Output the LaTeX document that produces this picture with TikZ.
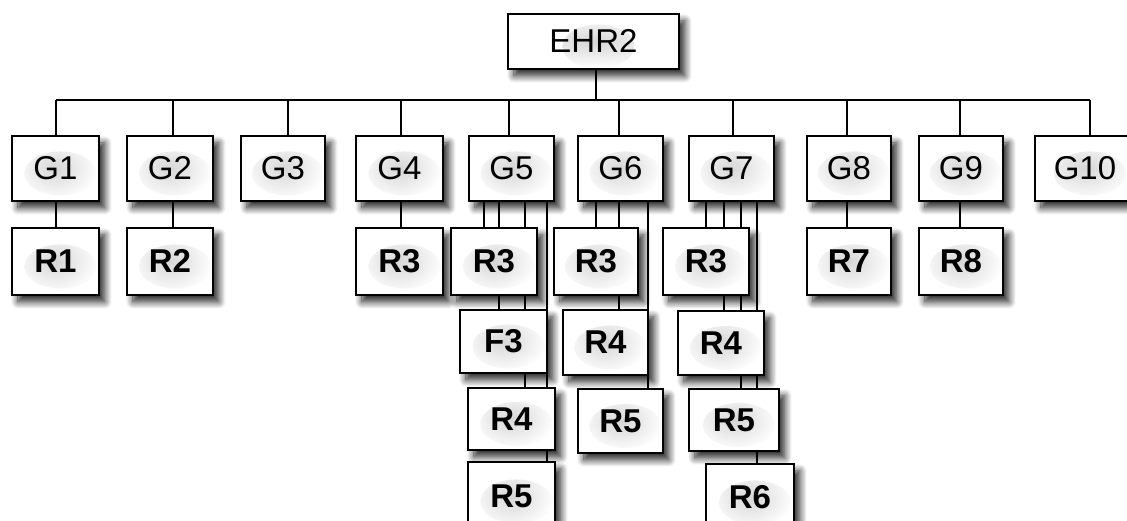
\documentclass[tikz,border=0pt]{standalone}
\usepackage{fontspec}
\setmainfont{Liberation Sans}
\usetikzlibrary{shadows.blur}
\pgfdeclarelayer{bg}
\pgfsetlayers{bg,main}
\tikzset{
  box/.style={draw=black, line width=1.9pt, fill=white, anchor=north west,
    inner sep=0pt, font=\fontsize{33}{33}\selectfont,
    blur shadow={shadow xshift=6pt, shadow yshift=-7pt, shadow blur radius=7pt,
      shadow blur steps=10, shadow opacity=85},
    path picture={\shade[inner color=black!16, outer color=white]
      ([xshift=5pt,yshift=-5pt]path picture bounding box.center) ellipse (36pt and 22pt);}},
  rbox/.style={box, font=\fontsize{33}{33}\selectfont\bfseries},
  link/.style={line width=1.7pt, draw=black},
}
% box: style, name, left, top, right, bottom, label
\newcommand\boxat[7]{\node[#1, minimum width={#5-#3}, minimum height={#6-#4}] (#2) at (#3,#4) {#7};}
% vertical link from a parent's bottom edge down to a child's top edge
\newcommand\tie[3]{\draw[link] ([xshift=#2]#1.south) coordinate (tmp) -- (tmp |- #3.north);}
% vertical link from the bus down to a group box
\newcommand\hang[2]{\draw[link] ([xshift=#2]#1.north) coordinate (tmp) -- (tmp |- bus);}
\begin{document}
\begin{tikzpicture}[x=1pt,y=-1pt]
\useasboundingbox (0,0) rectangle (1127,520);

% root
\boxat{box}{EHR2}{507}{13}{678}{68}{EHR2}

% groups
\boxat{box}{G1}{11}{135}{98}{200}{G1}
\boxat{box}{G2}{126}{135}{212}{200}{G2}
\boxat{box}{G3}{240}{135}{324}{200}{G3}
\boxat{box}{G4}{355}{135}{442}{200}{G4}
\boxat{box}{G5}{468}{135}{553}{200}{G5}
\boxat{box}{G6}{577}{135}{662}{200}{G6}
\boxat{box}{G7}{688}{135}{773}{200}{G7}
\boxat{box}{G8}{806}{135}{890}{200}{G8}
\boxat{box}{G9}{918}{135}{1002}{200}{G9}
\boxat{box}{G10}{1034}{135}{1134}{200}{G10}

% first row of children
\boxat{rbox}{R1}{11}{227}{98}{294}{R1}
\boxat{rbox}{R2}{126}{227}{212}{294}{R2}
\boxat{rbox}{R3a}{355}{227}{442}{294}{R3}
\boxat{rbox}{R3b}{450}{227}{536}{294}{R3}
\boxat{rbox}{R3c}{553}{227}{637}{294}{R3}
\boxat{rbox}{R3d}{662}{227}{748}{294}{R3}
\boxat{rbox}{R7}{806}{227}{890}{294}{R7}
\boxat{rbox}{R8}{918}{227}{1002}{294}{R8}

% G5 column
\boxat{rbox}{F3}{459}{309}{546}{372}{F3}
\boxat{rbox}{R4b}{467}{387}{554}{449}{R4}
\boxat{rbox}{R5b}{467}{461}{554}{530}{R5}

% G6 column
\boxat{rbox}{R4c}{562}{309}{647}{374}{R4}
\boxat{rbox}{R5c}{577}{388}{662}{452}{R5}

% G7 column
\boxat{rbox}{R4d}{677}{310}{763}{374}{R4}
\boxat{rbox}{R5d}{688}{388}{778}{450}{R5}
\boxat{rbox}{R6d}{705}{463}{793}{530}{R6}

\begin{pgfonlayer}{bg}
  \coordinate (bus) at (0,100);
  % root to bus
  \draw[link] ([xshift=2.5]EHR2.south) coordinate (tmp) -- (tmp |- bus);
  \draw[link] ([xshift=0.5]G1.north |- bus) -- ([xshift=5]G10.north |- bus);
  \hang{G1}{0.5}
  \hang{G2}{3}
  \hang{G3}{5}
  \hang{G4}{1.5}
  \hang{G5}{-2.5}
  \hang{G6}{-1.5}
  \hang{G7}{1.5}
  \hang{G8}{-2}
  \hang{G9}{-1}
  \hang{G10}{5}
  % groups to their children
  \tie{G1}{0.5}{R1}
  \tie{G2}{3}{R2}
  \tie{G4}{1.5}{R3a}
  \tie{G5}{-27.5}{R3b}
  \tie{G5}{-12.5}{F3}
  \tie{G5}{13.5}{R4b}
  \tie{G5}{35.5}{R5b}
  \tie{G6}{-24.5}{R3c}
  \tie{G6}{-1.5}{R4c}
  \tie{G6}{27.5}{R5c}
  \tie{G7}{-25.5}{R3d}
  \tie{G7}{-7.5}{R4d}
  \tie{G7}{9.5}{R5d}
  \tie{G7}{25.5}{R6d}
  \tie{G8}{-2}{R7}
  \tie{G9}{-1}{R8}
\end{pgfonlayer}
\end{tikzpicture}
\end{document}
